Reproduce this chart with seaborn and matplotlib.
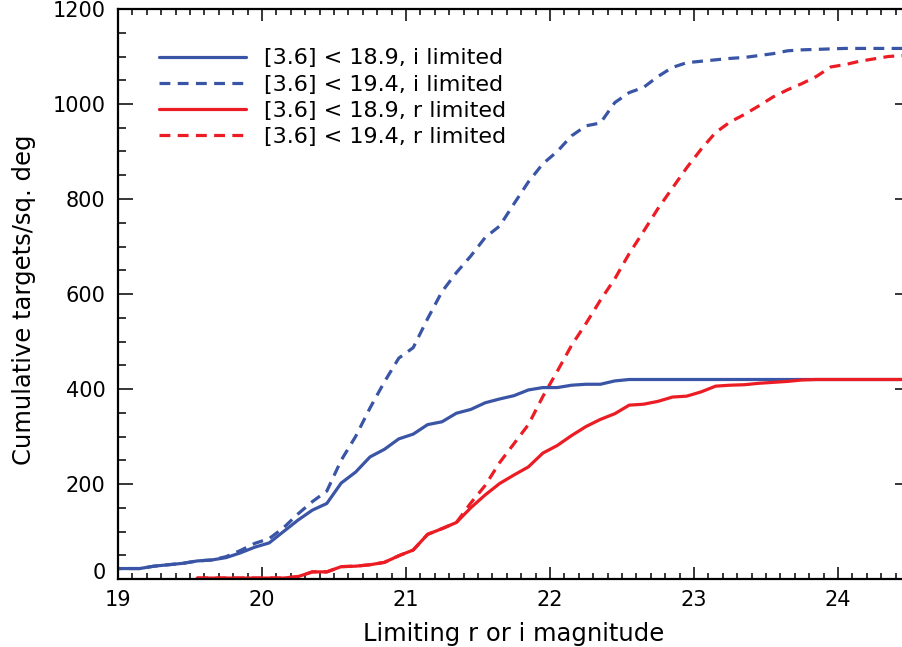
import numpy as np
import pandas as pd
import matplotlib
matplotlib.use("Agg")
import matplotlib.pyplot as plt
from matplotlib.ticker import MultipleLocator, FixedLocator
import seaborn as sns

# Limiting magnitude grid (bin centres)
mag = [18.95, 19.05, 19.15, 19.25, 19.35, 19.45, 19.55, 19.65, 19.75, 19.85,
       19.95, 20.05, 20.15, 20.25, 20.35, 20.45, 20.55, 20.65, 20.75, 20.85,
       20.95, 21.05, 21.15, 21.25, 21.35, 21.45, 21.55, 21.65, 21.75, 21.85,
       21.95, 22.05, 22.15, 22.25, 22.35, 22.45, 22.55, 22.65, 22.75, 22.85,
       22.95, 23.05, 23.15, 23.25, 23.35, 23.45, 23.55, 23.65, 23.75, 23.85,
       23.95, 24.05, 24.15, 24.25, 24.35, 24.45]

nan = np.nan

# [3.6] < 18.9, i limited
i_189 = [22, 22, 22, 27, 30, 33, 38, 40, 45, 55,
         67, 76, 100, 124, 145, 159, 202, 225, 257, 273,
         295, 305, 325, 331, 349, 357, 371, 379, 386, 398,
         403, 403, 408, 410, 410, 417, 420, 420, 420, 420,
         420, 420, 420, 420, 420, 420, 420, 420, 420, 420,
         420, 420, 420, 420, 420, 420]

# [3.6] < 19.4, i limited
i_194 = [22, 22, 22, 27, 30, 33, 38, 40, 47, 60,
         75, 85, 108, 137, 163, 185, 250, 300, 360, 415,
         465, 487, 548, 605, 645, 680, 719, 743, 790, 836,
         874, 900, 933, 954, 960, 1003, 1024, 1035, 1058, 1077,
         1087, 1090, 1093, 1096, 1098, 1102, 1106, 1112, 1114, 1115,
         1116, 1117, 1117, 1117, 1117, 1117]

# [3.6] < 18.9, r limited
r_189 = [nan, nan, nan, nan, nan, nan, 2, 2, 2, 2,
         2, 2, 2, 5, 15, 15, 26, 27, 30, 35,
         49, 61, 94, 106, 119, 150, 177, 201, 219, 236,
         265, 281, 302, 321, 336, 348, 366, 368, 374, 383,
         385, 394, 406, 408, 409, 412, 414, 416, 419, 420,
         420, 420, 420, 420, 420, 420]

# [3.6] < 19.4, r limited
r_194 = [nan, nan, nan, nan, nan, nan, 2, 2, 2, 2,
         2, 2, 2, 5, 15, 15, 26, 27, 30, 35,
         49, 61, 94, 106, 119, 160, 197, 245, 285, 325,
         384, 437, 492, 538, 587, 632, 685, 732, 780, 823,
         866, 905, 940, 962, 978, 996, 1015, 1030, 1043, 1058,
         1078, 1083, 1090, 1095, 1100, 1102]

labels = ["[3.6] < 18.9, i limited", "[3.6] < 19.4, i limited",
          "[3.6] < 18.9, r limited", "[3.6] < 19.4, r limited"]

BLUE = "#3a55a5"
RED = "#ec1c24"
DASH = (0, (3.4, 2.3))

sns.set_style("ticks")
plt.rcParams["font.family"] = ["DejaVu Sans"]
plt.rcParams["text.color"] = "black"
plt.rcParams["axes.labelcolor"] = "black"

fig = plt.figure(figsize=(9.02, 6.47), dpi=100)
# axes run slightly past the right edge of the canvas
ax = fig.add_axes([118 / 902, 68 / 647, 792 / 902, 570 / 647])

series = [(i_189, BLUE, "-"), (i_194, BLUE, DASH),
          (r_189, RED, "-"), (r_194, RED, DASH)]
# draw the dashed curves first so the solid ones sit on top where they overlap
order = [1, 3, 0, 2]
for k in order:
    vals, col, ls = series[k]
    df = pd.DataFrame({"mag": mag, "n": vals}).dropna()
    sns.lineplot(data=df, x="mag", y="n", ax=ax, color=col, linestyle=ls,
                 linewidth=2.3, label=labels[k], estimator=None, sort=True)

ax.set_xlim(19, 24.5)
ax.set_ylim(0, 1200)

ax.xaxis.set_major_locator(FixedLocator([19, 20, 21, 22, 23, 24]))
ax.xaxis.set_minor_locator(MultipleLocator(0.1))
ax.yaxis.set_major_locator(FixedLocator([0, 200, 400, 600, 800, 1000, 1200]))
ax.yaxis.set_minor_locator(MultipleLocator(50))

ax.tick_params(axis="both", which="both", direction="in", top=True, right=True,
               colors="black", labelcolor="black", labelsize=15, width=1.1)
ax.tick_params(axis="x", which="major", length=8.5, pad=8)
ax.tick_params(axis="x", which="minor", length=4.5)
ax.tick_params(axis="y", which="major", length=11, pad=9)
ax.tick_params(axis="y", which="minor", length=5.5)

for sp in ax.spines.values():
    sp.set_linewidth(1.6)
    sp.set_color("black")

ax.set_xticklabels(["19", "20", "21", "22", "23", "24"])
ax.set_yticklabels(["0", "200", "400", "600", "800", "1000", "1200"])
ax.get_yticklabels()[0].set_verticalalignment("baseline")

ax.set_xlabel("Limiting r or i magnitude", fontsize=17.5, color="black")
ax.set_ylabel("Cumulative targets/sq. deg", fontsize=17.5, color="black")
ax.xaxis.set_label_coords(0.5, -0.075)
ax.yaxis.set_label_coords(-0.104, 0.49)

handles, labs = ax.get_legend_handles_labels()
lookup = dict(zip(labs, handles))
leg = ax.legend([lookup[l] for l in labels], labels, loc="upper left",
                bbox_to_anchor=(0.052, 0.931), frameon=False, fontsize=16,
                handlelength=3.9, handletextpad=0.8, labelspacing=0.28,
                borderpad=0, borderaxespad=0)
for t in leg.get_texts():
    t.set_color("black")

fig.savefig("out.png", dpi=100)
